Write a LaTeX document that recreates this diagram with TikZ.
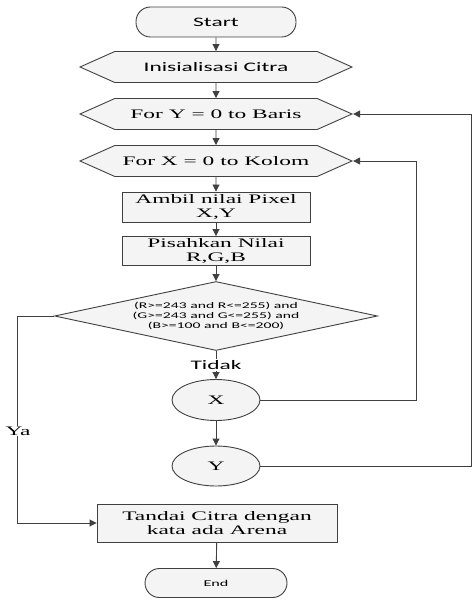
\documentclass[tikz,border=0pt]{standalone}
\usepackage{fontspec}
\setmainfont{Liberation Serif}[FakeStretch=1.8]
\newfontfamily\calfont{Carlito}[FakeStretch=1.8]
\usetikzlibrary{shapes.geometric,shapes.symbols,arrows.meta}
\definecolor{lineclr}{HTML}{404040}
\definecolor{boxfill}{HTML}{F4F4F4}

\begin{document}
\begin{tikzpicture}[x=1pt,y=-1pt,
    shp/.style={draw=lineclr,fill=boxfill,line width=0.9pt,inner sep=0pt},
    term/.style={shp,rectangle,rounded corners=14.5pt,minimum height=30pt},
    hexa/.style={shp,signal,signal to=west and east,signal pointer angle=48,minimum width=272pt,minimum height=31pt},
    proc/.style={shp,rectangle,align=center,minimum width=188pt,minimum height=30pt},
    decide/.style={shp,diamond,aspect=4.7,align=center,minimum width=323pt,minimum height=69pt},
    conn/.style={shp,ellipse,minimum width=88pt,minimum height=41pt},
    arr/.style={-{Triangle[length=7pt,width=7pt]},draw=lineclr,line width=0.9pt},
    serif/.style={font=\fontsize{13}{14}\selectfont},
    sans/.style={font=\calfont\fontsize{13}{14}\selectfont}]
    \useasboundingbox (0,0) rectangle (474,612);

    \node[term,sans,minimum width=160pt] (start) at (216,22) {Start};
    \node[hexa,sans] (init) at (216,67) {Inisialisasi Citra};
    \node[hexa,serif] (fory) at (216,114) {For Y = 0 to Baris};
    \node[hexa,serif] (forx) at (216,161) {For X = 0 to Kolom};
    \node[proc,serif] (ambil) at (216,207) {Ambil nilai Pixel\\X,Y};
    \node[proc,serif,minimum height=29pt] (pisah) at (216,251) {Pisahkan Nilai\\R,G,B};
    \node[decide,font=\calfont\fontsize{8.7}{10}\selectfont] (cek) at (216,316)
        {(R>=243 and R<=255) and\\(G>=243 and G<=255) and\\(B>=100 and B<=200)};
    \node[conn,serif] (nextx) at (216,400) {X};
    \node[conn,serif,minimum height=40pt] (nexty) at (216,466) {Y};
    \node[proc,serif,minimum width=240pt,minimum height=38pt] (tandai) at (217,523) {Tandai Citra dengan\\kata ada Arena};
    \node[term,font=\calfont\fontsize{9}{11}\selectfont,minimum width=142pt,minimum height=29pt] (end) at (216,583) {End};

    \draw[arr] (start) -- (init);
    \draw[arr] (init) -- (fory);
    \draw[arr] (fory) -- (forx);
    \draw[arr] (forx) -- (ambil);
    \draw[arr] (ambil) -- (pisah);
    \draw[arr] (pisah) -- (cek);
    \draw[arr] (cek) -- node[fill=white,sans,inner sep=1pt] (tidak) {Tidak} (nextx);
    \draw[arr] (nextx) -- (nexty);
    \draw[arr] (nextx.east) -| ([xshift=63pt]forx.east) -- (forx.east);
    \draw[arr] (nexty.east) -| ([xshift=118pt]fory.east) -- (fory.east);
    \draw[arr] (cek.west) -- ++(-37,0) |- (tandai.west);
    \node[fill=white,serif,inner sep=1pt] (ya) at (18,431) {Ya};
    \draw[arr] (tandai) -- (end);
\end{tikzpicture}
\end{document}
